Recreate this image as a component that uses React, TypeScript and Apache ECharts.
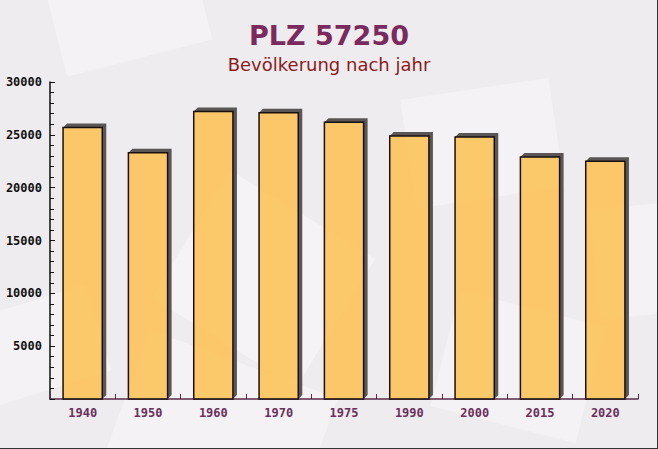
import React, { useEffect, useRef } from "react";
import * as echarts from "echarts";

const categories = ["1940", "1950", "1960", "1970", "1975", "1990", "2000", "2015", "2020"];
const population = [25700, 23300, 27200, 27100, 26200, 24900, 24800, 22900, 22500];
const yTicks = [0, 5000, 10000, 15000, 20000, 25000, 30000];

const TITLE = "PLZ 57250";
const SUBTITLE = "Bevölkerung nach jahr";

export default function App() {
  const ref = useRef<HTMLDivElement>(null);
  useEffect(() => {
    document.body.style.margin = "0";
    const chart = echarts.init(ref.current!, null, { renderer: "svg" });
    const depth = 4;
    const option: any = {
      animation: false,
      backgroundColor: "#efecef",
      title: [
        {
          text: TITLE,
          left: "center",
          top: 17,
          textStyle: { fontFamily: "DejaVu Sans", fontWeight: "bold", fontSize: 27, color: "#7a2a5c" },
        },
        {
          text: SUBTITLE,
          left: "center",
          top: 50,
          textStyle: { fontFamily: "DejaVu Sans", fontWeight: "normal", fontSize: 18, color: "#8a1b1b" },
        },
      ],
      graphic: [
        { type: "rect", z: 0, silent: true, x: 40, y: -30, rotation: 0.25, shape: { x: 0, y: 0, width: 150, height: 110 }, style: { fill: "rgba(255,255,255,0.35)" } },
        { type: "rect", z: 0, silent: true, x: 230, y: 170, rotation: -0.55, shape: { x: 0, y: 0, width: 170, height: 150 }, style: { fill: "rgba(255,255,255,0.4)" } },
        { type: "rect", z: 0, silent: true, x: 150, y: 330, rotation: -0.35, shape: { x: 0, y: 0, width: 200, height: 130 }, style: { fill: "rgba(255,255,255,0.35)" } },
        { type: "rect", z: 0, silent: true, x: 400, y: 100, rotation: 0.15, shape: { x: 0, y: 0, width: 150, height: 110 }, style: { fill: "rgba(255,255,255,0.3)" } },
        { type: "rect", z: 0, silent: true, x: 460, y: 290, rotation: -0.25, shape: { x: 0, y: 0, width: 150, height: 120 }, style: { fill: "rgba(255,255,255,0.3)" } },
        { type: "rect", z: 0, silent: true, x: 590, y: 210, rotation: 0.1, shape: { x: 0, y: 0, width: 90, height: 110 }, style: { fill: "rgba(255,255,255,0.35)" } },
        { type: "rect", z: 0, silent: true, x: -30, y: 320, rotation: 0.3, shape: { x: 0, y: 0, width: 120, height: 90 }, style: { fill: "rgba(255,255,255,0.35)" } },
        { type: "line", z: 100, silent: true, shape: { x1: 657.5, y1: 0, x2: 657.5, y2: 449 }, style: { stroke: "#333", lineWidth: 1 } },
        { type: "line", z: 100, silent: true, shape: { x1: 0, y1: 448.5, x2: 658, y2: 448.5 }, style: { stroke: "#333", lineWidth: 1 } },
      ],
      grid: { left: 50, right: 20, top: 82, bottom: 50, containLabel: false },
      xAxis: {
        type: "category",
        data: categories,
        axisLine: { show: true, lineStyle: { color: "#5a2a4a", width: 1.5 } },
        axisTick: { show: true, inside: true, length: 5, lineStyle: { color: "#5a2a4a" } },
        axisLabel: {
          margin: 8,
          fontFamily: "DejaVu Sans Mono",
          fontWeight: "bold",
          fontSize: 12,
          color: "#6b2f5b",
        },
      },
      yAxis: {
        type: "value",
        min: yTicks[0],
        max: yTicks[yTicks.length - 1],
        interval: 5000,
        axisLine: { show: true, lineStyle: { color: "#111", width: 1.5 } },
        axisTick: { show: true, inside: true, length: 5, lineStyle: { color: "#111" } },
        minorTick: { show: true, splitNumber: 5, length: 4, lineStyle: { color: "#111" } },
        splitLine: { show: false },
        axisLabel: {
          margin: 8,
          fontFamily: "DejaVu Sans Mono",
          fontWeight: "bold",
          fontSize: 12,
          color: "#111",
          formatter: (v: number) => (v === 0 ? "" : String(v)),
        },
      },
      series: [
        {
          type: "custom",
          data: population.map((v, i) => [i, v]),
          encode: { x: 0, y: 1 },
          renderItem: (params: any, api: any) => {
            const top = api.coord([api.value(0), api.value(1)]);
            const base = api.coord([api.value(0), 0]);
            const w = api.size([1, 0])[0] * 0.6;
            const x0 = top[0] - w / 2;
            const x1 = top[0] + w / 2;
            const y0 = top[1];
            const y1 = base[1];
            return {
              type: "group",
              children: [
                {
                  type: "polygon",
                  shape: {
                    points: [
                      [x0, y0],
                      [x0 + depth, y0 - depth],
                      [x1 + depth, y0 - depth],
                      [x1 + depth, y1 - depth],
                      [x1, y1],
                      [x1, y0],
                    ],
                  },
                  style: { fill: "#5b5656", stroke: null },
                },
                {
                  type: "rect",
                  shape: { x: x0, y: y0, width: w, height: y1 - y0 },
                  style: { fill: "rgba(255,184,52,0.72)", stroke: "#1a1010", lineWidth: 1.5 },
                },
              ],
            };
          },
        },
      ],
    };
    chart.setOption(option);
    return () => chart.dispose();
  }, []);
  return <div ref={ref} style={{ width: 658, height: 449 }} />;
}
